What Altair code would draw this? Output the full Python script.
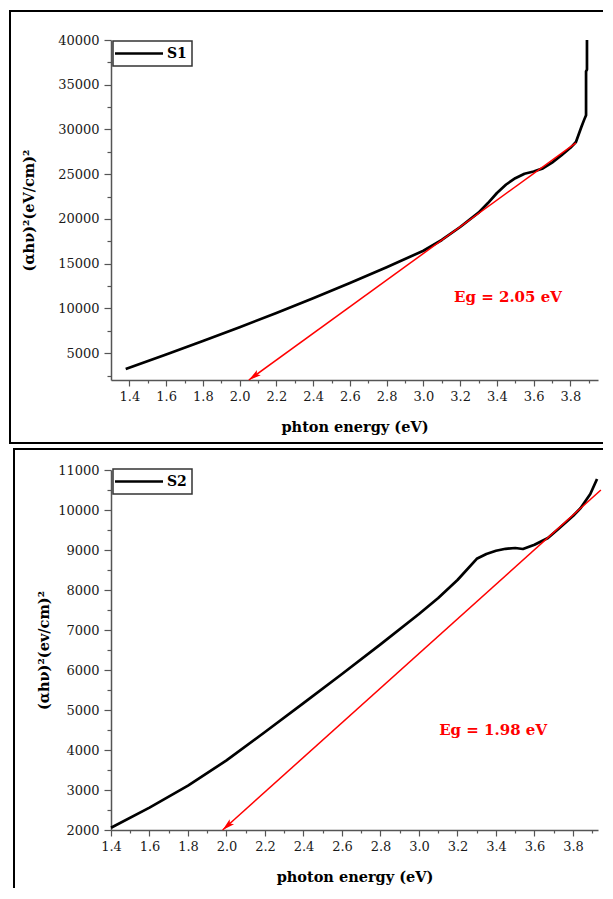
import altair as alt
import pandas as pd

SERIES = ["S1", "S2"]

# S1 curve (photon energy eV, (αhν)^2)
S1_X = [1.38, 1.6, 1.8, 2.0, 2.2, 2.4, 2.6, 2.8, 3.0, 3.1, 3.2, 3.3, 3.35, 3.4, 3.45, 3.5, 3.55,
        3.6, 3.65, 3.7, 3.75, 3.8, 3.83, 3.86, 3.875, 3.885, 3.885, 3.89, 3.89]
S1_Y = [3240, 4850, 6350, 7900, 9500, 11150, 12850, 14600, 16450, 17650, 19100, 20700, 21750, 22900,
        23850, 24550, 25050, 25300, 25650, 26300, 27100, 27950, 28600, 30300, 31100, 31600, 36500, 36700, 40000]

# S2 curve
S2_X = [1.4, 1.6, 1.8, 2.0, 2.2, 2.4, 2.6, 2.8, 3.0, 3.1, 3.2, 3.3, 3.35, 3.4, 3.45, 3.5, 3.54,
        3.6, 3.67, 3.73, 3.8, 3.84, 3.89, 3.925]
S2_Y = [2058, 2560, 3110, 3740, 4450, 5170, 5900, 6640, 7400, 7800, 8250, 8780, 8900, 8980, 9030,
        9050, 9025, 9130, 9300, 9550, 9850, 10050, 10400, 10775]

# Tauc fit lines (start point = arrow tip on x axis)
FIT1_X = [2.05, 3.83]
FIT1_Y = [2000, 28500]
FIT2_X = [1.98, 3.945]
FIT2_Y = [2000, 10500]

EG_TEXT = ["Eg = 2.05 eV", "Eg = 1.98 eV"]
EG_X = [3.46, 3.385]
EG_Y = [11300, 4500]

X_TITLES = ["phton energy (eV)", "photon energy (eV)"]
Y_TITLES = ["(αhν)²(eV/cm)²", "(αhν)²(ev/cm)²"]

X1_DOMAIN = [1.3, 3.95]
Y1_DOMAIN = [2000, 40000]
X2_DOMAIN = [1.4, 3.93]
Y2_DOMAIN = [2000, 11000]

X_MAJOR = [1.4, 1.6, 1.8, 2.0, 2.2, 2.4, 2.6, 2.8, 3.0, 3.2, 3.4, 3.6, 3.8]
X_MINOR = [1.5, 1.7, 1.9, 2.1, 2.3, 2.5, 2.7, 2.9, 3.1, 3.3, 3.5, 3.7, 3.9]
Y1_MAJOR = [5000, 10000, 15000, 20000, 25000, 30000, 35000, 40000]
Y1_MINOR = [2500, 7500, 12500, 17500, 22500, 27500, 32500, 37500]
Y2_MAJOR = [2000, 3000, 4000, 5000, 6000, 7000, 8000, 9000, 10000, 11000]
Y2_MINOR = [2500, 3500, 4500, 5500, 6500, 7500, 8500, 9500, 10500]

SERIF = "DejaVu Serif"
AXIS_GRAY = "#555555"
ARROW = "M0,0L0.5,1.9L0,1.5L-0.5,1.9Z"


def panel(idx, xs, ys, fx, fy, xdom, ydom, ymajor, yminor, width, height,
          ytitle_x, frame, legend_y, arrow_angle):
    common = dict(grid=False, labelFont=SERIF, labelFontSize=13, labelColor="#1a1a1a",
                  labelOverlap=False, labelFlush=False,
                  domainColor=AXIS_GRAY, tickColor=AXIS_GRAY, domainWidth=1.5, tickWidth=1.2)
    x_axis = alt.Axis(
        values=X_MAJOR, title=X_TITLES[idx], orient="bottom", format=".1f",
        tickSize=6, labelPadding=4,
        titleFont=SERIF, titleFontWeight="bold", titleFontSize=14.5, titleColor="black",
        titleY=47, titleBaseline="middle", **common)
    y_axis = alt.Axis(
        values=ymajor, title=Y_TITLES[idx], orient="left", format="d",
        tickSize=7, labelPadding=5,
        titleFont=SERIF, titleFontWeight="bold", titleFontSize=14.5, titleColor="black",
        titleAngle=270, titleX=ytitle_x, titleY=height / 2,
        titleAlign="center", titleBaseline="middle", **common)
    x_minor = alt.Axis(values=X_MINOR, orient="bottom", title=None, labels=False,
                       domain=False, tickSize=3, tickColor=AXIS_GRAY, tickWidth=1.2, grid=False)
    y_minor = alt.Axis(values=yminor, orient="left", title=None, labels=False,
                       domain=False, tickSize=4, tickColor=AXIS_GRAY, tickWidth=1.2, grid=False)

    xs_scale = alt.Scale(domain=xdom, nice=False, zero=False)
    ys_scale = alt.Scale(domain=ydom, nice=False, zero=False)

    def X(axis=None):
        return alt.X("x:Q", scale=xs_scale, axis=axis)

    def Y(axis=None):
        return alt.Y("y:Q", scale=ys_scale, axis=axis)

    curve_df = pd.DataFrame({"x": xs, "y": ys, "i": list(range(len(xs)))})
    fit_df = pd.DataFrame({"x": fx, "y": fy})
    tip_df = fit_df.iloc[[0]]
    ann_df = pd.DataFrame({"x": [EG_X[idx]], "y": [EG_Y[idx]], "t": [EG_TEXT[idx]]})
    dummy = pd.DataFrame({"a": [0]})

    curve = alt.Chart(curve_df).mark_line(color="black", strokeWidth=2.7, strokeJoin="round").encode(
        x=X(x_axis), y=Y(y_axis), order="i:Q")
    fit = alt.Chart(fit_df).mark_line(color="#ff0000", strokeWidth=1.5).encode(
        x=X(x_minor), y=Y(y_minor))
    tip = alt.Chart(tip_df).mark_point(
        shape=ARROW, filled=True, color="#ff0000", size=170, opacity=1,
        angle=arrow_angle, strokeWidth=0).encode(x=X(), y=Y())
    ann = alt.Chart(ann_df).mark_text(
        font=SERIF, fontWeight="bold", fontSize=15, color="#ff0000",
        align="center", baseline="middle").encode(x=X(), y=Y(), text="t:N")

    ly = legend_y
    leg_box = alt.Chart(dummy).mark_rect(fill="white", stroke="#333333", strokeWidth=1.5).encode(
        x=alt.value(2), x2=alt.value(81), y=alt.value(ly), y2=alt.value(ly + 25))
    leg_line = alt.Chart(dummy).mark_rule(color="black", strokeWidth=2.7).encode(
        x=alt.value(4), x2=alt.value(52), y=alt.value(ly + 12.5))
    leg_text = alt.Chart(dummy).mark_text(
        font=SERIF, fontWeight="bold", fontSize=14, color="black",
        align="left", baseline="middle").encode(
        x=alt.value(56), y=alt.value(ly + 13), text=alt.value(SERIES[idx]))

    frames = []
    for (x1, x2, y1, y2) in frame:
        enc = {"x": alt.value(x1), "y": alt.value(y1)}
        if x2 is not None:
            enc["x2"] = alt.value(x2)
        if y2 is not None:
            enc["y2"] = alt.value(y2)
        frames.append(alt.Chart(dummy).mark_rule(color="black", strokeWidth=2).encode(**enc))

    return alt.layer(curve, fit, tip, ann, leg_box, leg_line, leg_text, *frames).resolve_axis(
        x="independent", y="independent").properties(width=width, height=height)


top = panel(
    0, S1_X, S1_Y, FIT1_X, FIT1_Y, X1_DOMAIN, Y1_DOMAIN, Y1_MAJOR, Y1_MINOR, 487, 340,
    -82,
    [(-102, 492, -29, None), (-101, None, -30, 404), (-102, 492, 403, None)],
    1, 234,
)
bottom = panel(
    1, S2_X, S2_Y, FIT2_X, FIT2_Y, X2_DOMAIN, Y2_DOMAIN, Y2_MAJOR, Y2_MINOR, 487, 360,
    -67,
    [(-97, 492, -21, None), (-97, None, -22, 418)],
    -1, 228,
)

chart = alt.concat(top, bottom, columns=1, spacing=2, align="each").resolve_scale(
    x="independent", y="independent"
).configure_view(stroke=None).properties(
    padding={"left": 0, "top": 1, "right": 0, "bottom": 0}
)

chart.save("out.html", embed_options={"renderer": "svg", "actions": False})
